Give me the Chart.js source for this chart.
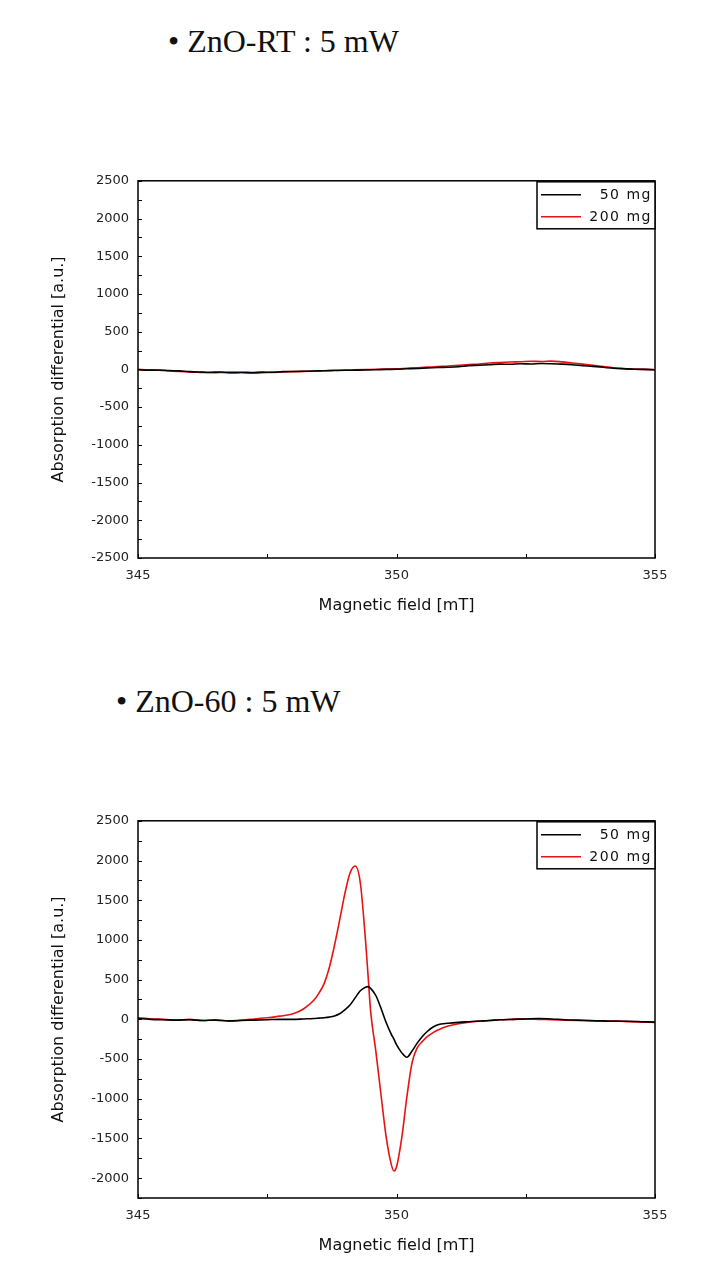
<!DOCTYPE html>
<html>
<head>
<meta charset="utf-8">
<script src="https://cdn.jsdelivr.net/npm/chart.js@4.4.1/dist/chart.umd.min.js"></script>
<style>
  body { margin: 0; width: 712px; height: 1278px; background: #fff; position: relative; overflow: hidden; }
  .title { position: absolute; font-family: "Liberation Serif", "Times New Roman", serif; font-size: 32px; line-height: 32px; color: #111; white-space: nowrap; }
  .box { position: absolute; left: 40px; width: 640px; height: 451px; }
</style>
</head>
<body>
<div class="title" style="left:168px; top:25px;">• ZnO-RT : 5 mW</div>
<div class="box" style="top:164px;"><canvas id="rtChart" width="640" height="451"></canvas></div>
<div class="title" style="left:116px; top:685px;">• ZnO-60 : 5 mW</div>
<div class="box" style="top:804px;"><canvas id="sixtyChart" width="640" height="451"></canvas></div>
<script>
// magnetic field axis (mT)
const fieldTicks = [345, 347.5, 350, 352.5, 355];
const fieldLabels = ['345', '', '350', '', '355'];
const signalTicks = [-2500, -2250, -2000, -1750, -1500, -1250, -1000, -750, -500, -250, 0,
  250, 500, 750, 1000, 1250, 1500, 1750, 2000, 2250, 2500];
const seriesNames = ['50 mg', '200 mg'];
const seriesColors = ['#000000', '#e81212'];

// ZnO-RT
const fieldRT = [345.0, 345.2, 345.4, 345.6, 345.8, 346.0, 346.2, 346.4, 346.6, 346.8,
  347.0, 347.2, 347.4, 347.6, 347.8, 348.0, 348.2, 348.4, 348.6, 348.8,
  349.0, 349.2, 349.4, 349.6, 349.8, 350.0, 350.2, 350.4, 350.6, 350.8,
  351.0, 351.2, 351.4, 351.6, 351.8, 352.0, 352.2, 352.4, 352.6, 352.8,
  353.0, 353.2, 353.4, 353.6, 353.8, 354.0, 354.2, 354.4, 354.6, 354.8, 355.0];
const rt50 = [-5, -10, -8, -15, -20, -30, -35, -38, -35, -40,
  -38, -42, -36, -38, -30, -28, -25, -22, -18, -15,
  -12, -10, -8, -5, 0, 2, 8, 12, 20, 25,
  28, 35, 50, 55, 62, 70, 68, 75, 72, 78,
  75, 70, 62, 50, 40, 28, 15, 8, 2, 0, -5];
const rt200 = [0, -8, -12, -20, -28, -35, -40, -45, -42, -48,
  -45, -50, -44, -40, -35, -30, -26, -22, -18, -12,
  -10, -6, -2, 2, 5, 8, 15, 22, 30, 38,
  45, 55, 65, 72, 85, 92, 98, 102, 108, 105,
  110, 100, 85, 70, 55, 38, 22, 10, 5, 0, -5];

// ZnO-60
const field60 = [345.0, 345.25, 345.5, 345.75, 346.0, 346.25, 346.5, 346.75, 347.0, 347.25, 347.5, 347.75,
  348.0, 348.2, 348.4,
  348.5, 348.6, 348.7, 348.8, 348.9, 349.0, 349.1, 349.2, 349.3, 349.4,
  349.45,
  349.5, 349.6, 349.7, 349.8, 349.9,
  349.95,
  350.0, 350.1, 350.2, 350.3, 350.4, 350.5, 350.6, 350.7, 350.8,
  351.0, 351.2, 351.4, 351.6, 351.8,
  352.0, 352.25, 352.5, 352.75, 353.0, 353.25, 353.5, 353.75, 354.0, 354.25, 354.5, 354.75, 355.0];
const s60_50 = [10, 0, -5, -10, -5, -15, -10, -20, -15, -10, -5, 0,
  0, 5, 10,
  15, 20, 28, 42, 70, 120, 180, 270, 360, 405,
  412,
  390, 300, 140, -40, -190,
  -250,
  -320, -420, -478, -400, -300, -215, -150, -100, -68,
  -50, -38, -30, -22, -15,
  -5, 0, 5, 10, 5, -5, -10, -15, -20, -25, -25, -30, -35];
const s60_200 = [20, 5, 0, -10, 0, -15, -10, -20, -10, 5, 20, 40,
  70, 130, 240,
  330, 450, 650, 930, 1250, 1580, 1840, 1930, 1720, 1000,
  550,
  100, -400, -950, -1480, -1830,
  -1910,
  -1860, -1500, -980, -550, -360, -280, -215, -170, -135,
  -85, -55, -35, -25, -15,
  -5, 0, 5, 0, -5, -10, -15, -20, -25, -20, -30, -35, -40];

const frame = {
  id: 'frame',
  afterDraw(chart) {
    const { ctx, chartArea: a, scales } = chart;
    ctx.save();
    ctx.strokeStyle = '#000';
    ctx.lineWidth = 1;
    scales.x.ticks.forEach(t => {
      const px = Math.round(scales.x.getPixelForValue(t.value)) + 0.5;
      ctx.beginPath(); ctx.moveTo(px, a.bottom); ctx.lineTo(px, a.bottom - 4); ctx.stroke();
    });
    scales.y.ticks.forEach(t => {
      const py = Math.round(scales.y.getPixelForValue(t.value)) + 0.5;
      ctx.beginPath(); ctx.moveTo(a.left, py); ctx.lineTo(a.left + 4, py); ctx.stroke();
    });
    ctx.lineWidth = 1.5;
    ctx.strokeRect(a.left, a.top, a.width, a.height);

    // legend box, top right inside the plot
    const w = 118, h = 47;
    const x0 = a.right - w, y0 = a.top + 1;
    ctx.fillStyle = '#fff';
    ctx.fillRect(x0, y0, w, h);
    ctx.lineWidth = 1.5;
    ctx.strokeRect(x0, y0, w, h);
    ctx.font = '14px "DejaVu Sans", sans-serif';
    ctx.letterSpacing = '1.5px';
    ctx.textAlign = 'right';
    ctx.textBaseline = 'middle';
    chart.data.datasets.forEach((ds, i) => {
      const ly = y0 + 13 + i * 22;
      ctx.strokeStyle = ds.borderColor;
      ctx.lineWidth = 1.5;
      ctx.beginPath(); ctx.moveTo(x0 + 4, ly); ctx.lineTo(x0 + 44, ly); ctx.stroke();
      ctx.fillStyle = '#111';
      ctx.fillText(ds.label, a.right - 3, ly + 1);
    });
    ctx.restore();
  }
};

const makeChart = (el, field, series, yMin) => new Chart(el, {
  type: 'line',
  data: {
    datasets: series.map((vals, i) => ({
      label: seriesNames[i],
      data: field.map((x, j) => ({ x: x, y: vals[j] })),
      borderColor: seriesColors[i],
      borderWidth: 1.6,
      pointRadius: 0,
      cubicInterpolationMode: 'monotone',
      fill: false
    }))
  },
  options: {
    responsive: false,
    animation: false,
    layout: { padding: { top: 1, right: 25, left: 0, bottom: 0 } },
    plugins: { legend: { display: false }, tooltip: { enabled: false } },
    scales: {
      x: {
        type: 'linear', min: 345, max: 355,
        afterBuildTicks: axis => { axis.ticks = fieldTicks.map(v => ({ value: v })); },
        afterFit: axis => { axis.height = 57; },
        grid: { display: false, drawTicks: false },
        border: { display: false },
        ticks: {
          padding: 10, color: '#222', maxRotation: 0,
          font: { family: '"DejaVu Sans", sans-serif', size: 13 },
          callback: v => fieldLabels[fieldTicks.indexOf(v)] ?? ''
        },
        title: {
          display: true, text: 'Magnetic field [mT]', color: '#111',
          font: { family: '"DejaVu Sans", sans-serif', size: 16 },
          padding: { top: 3, bottom: 0 }
        }
      },
      y: {
        min: yMin, max: 2500,
        afterBuildTicks: axis => {
          axis.ticks = signalTicks.filter(v => v >= yMin).map(v => ({ value: v }));
        },
        afterFit: axis => { axis.width = 98; },
        grid: { display: false, drawTicks: false },
        border: { display: false },
        ticks: {
          padding: 9, color: '#222', autoSkip: false,
          font: { family: '"DejaVu Sans", sans-serif', size: 13 },
          callback: v => (v % 500 === 0 ? String(v) : '')
        },
        title: {
          display: true, text: 'Absorption differential [a.u.]', color: '#111',
          font: { family: '"DejaVu Sans", sans-serif', size: 16 },
          padding: { top: 9, bottom: 0 }
        }
      }
    }
  },
  plugins: [frame]
});

makeChart(document.getElementById('rtChart'), fieldRT, [rt50, rt200], -2500);
makeChart(document.getElementById('sixtyChart'), field60, [s60_50, s60_200], -2250);
</script>
</body>
</html>
